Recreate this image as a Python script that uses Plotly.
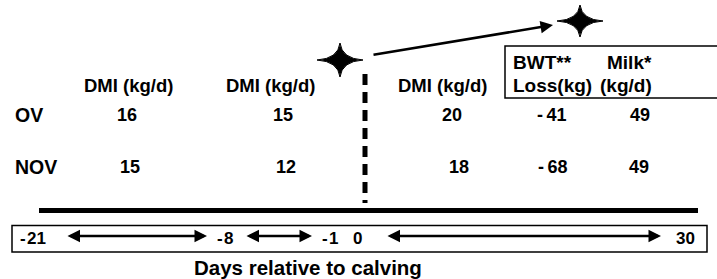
import plotly.graph_objects as go

# ---- data ----
groups = ["OV", "NOV"]
dmi_prepartum_early = [16, 15]   # -21 to -8 d
dmi_prepartum_late = [15, 12]    # -8 to -1 d
dmi_postpartum = [20, 18]        # 0 to 30 d
bwt_loss = [-41, -68]            # kg
milk = [49, 49]                  # kg/d
day_ticks = [-21, -8, -1, 0, 30]
col_headers = ["DMI (kg/d)", "DMI (kg/d)", "DMI (kg/d)"]
box_headers_top = ["BWT**", "Milk*"]
box_headers_bottom = ["Loss(kg)", "(kg/d)"]
x_title = "Days relative to calving"

# ---- layout (pixel space) ----
W, H = 717, 279
FONT = "Arial, Liberation Sans, sans-serif"
row_y = [115, 167]
col_x_values = [[127, 283, 452, 552, 640], [130, 286, 459, 553, 639]]
header_x = [128, 270, 442]
header_y = 85
tick_x = [33, 225, 330, 357, 685]
tick_y = 238

fig = go.Figure()
fig.add_trace(go.Scatter(x=[0, W], y=[0, H], mode="markers",
                         marker=dict(opacity=0), hoverinfo="skip", showlegend=False))

ann = []
def txt(x, y, s, size, xanchor="center"):
    ann.append(dict(x=x, y=y, xref="x", yref="y", text=s, showarrow=False,
                    xanchor=xanchor, yanchor="middle",
                    font=dict(family=FONT, size=size, color="black", weight="bold")))

for hx, h in zip(header_x, col_headers):
    txt(hx, header_y, h, 18.5)

# box headers
for hx, h in zip([513, 607], box_headers_top):
    txt(hx - 2, 62, h, 19, xanchor="left")
for hx, h in zip([513, 600], box_headers_bottom):
    txt(hx - 2, 85, h, 19, xanchor="left")

for i, g in enumerate(groups):
    txt(13, row_y[i], g, 19.5, xanchor="left")
    vals = [dmi_prepartum_early[i], dmi_prepartum_late[i], dmi_postpartum[i],
            bwt_loss[i], milk[i]]
    for xv, v in zip(col_x_values[i], vals):
        s = str(v)
        if v < 0:
            s = "-" + "\u2009" + str(abs(v))
        txt(xv, row_y[i], s, 18)

for tx, t in zip(tick_x, day_ticks):
    s = str(t)
    if t < 0:
        s = "-" + "\u200a" + str(abs(t))
    txt(tx, tick_y, s, 17)

txt(308, 267, x_title, 20.5)

# arrows
def arrow(x0, y0, x1, y1, both=True):
    d = dict(x=x1, y=y1, ax=x0, ay=y0, xref="x", yref="y", axref="x", ayref="y",
             text="", showarrow=True, arrowhead=2, arrowsize=1, arrowwidth=2.5,
             arrowcolor="black")
    if both:
        d.update(arrowside="end+start", startarrowhead=2, startarrowsize=1)
    ann.append(d)

arrow(66, 236, 207, 236)
arrow(245, 236, 312, 236)
arrow(386, 236, 661, 236)
arrow(372, 55, 553, 25, both=False)

shapes = []
# thick timeline
shapes.append(dict(type="line", x0=39, x1=698, y0=210.5, y1=210.5,
                   line=dict(color="black", width=5)))
# dashed calving line
shapes.append(dict(type="line", x0=365, x1=365, y0=74, y1=203,
                   line=dict(color="black", width=5, dash="11px,7px")))
# boxes
shapes.append(dict(type="rect", x0=12, x1=707, y0=225.5, y1=252,
                   line=dict(color="black", width=1.5)))
shapes.append(dict(type="rect", x0=505, x1=722, y0=46, y1=98,
                   line=dict(color="black", width=1.5)))

def star(cx, cy, rx, ry, k=0.08):
    dx, dy = rx * k, ry * k
    p = (f"M {cx-rx},{cy} Q {cx-dx},{cy-dy} {cx},{cy-ry} "
         f"Q {cx+dx},{cy-dy} {cx+rx},{cy} "
         f"Q {cx+dx},{cy+dy} {cx},{cy+ry} "
         f"Q {cx-dx},{cy+dy} {cx-rx},{cy} Z")
    return dict(type="path", path=p, fillcolor="black", line=dict(color="black", width=1))

shapes.append(star(340, 60, 23, 17))
shapes.append(star(580, 21, 23, 16))

fig.update_layout(
    width=W, height=H, margin=dict(l=0, r=0, t=0, b=0),
    paper_bgcolor="white", plot_bgcolor="white",
    xaxis=dict(range=[0, W], visible=False, fixedrange=True),
    yaxis=dict(range=[H, 0], visible=False, fixedrange=True),
    annotations=ann, shapes=shapes, showlegend=False,
)
fig.write_html("out.html", config={"displayModeBar": False},
               post_script="document.body.style.margin='0';document.body.style.overflow='hidden';")
